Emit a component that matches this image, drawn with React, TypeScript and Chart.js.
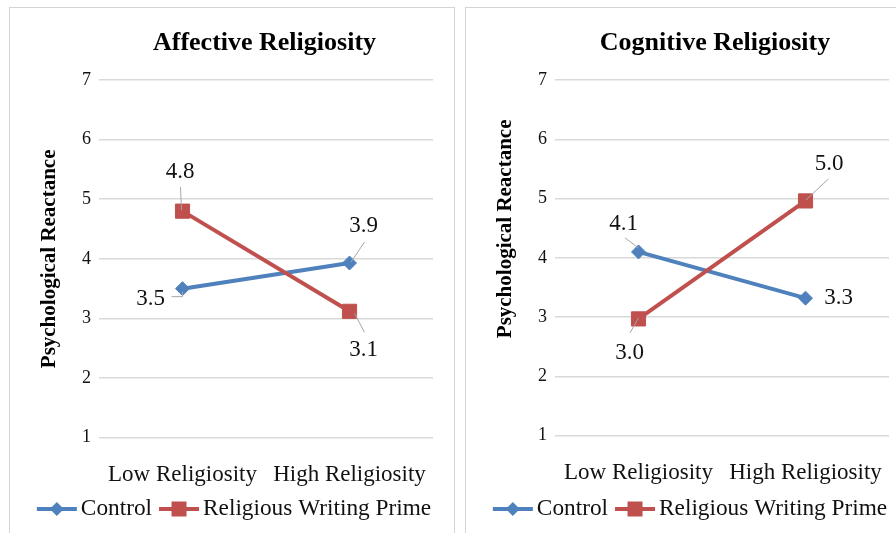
import React, { useEffect, useRef } from "react";
import { Chart, registerables } from "chart.js";

Chart.register(...registerables);

// ---------- data ----------
const categories = ["Low Religiosity", "High Religiosity"];
const seriesNames = ["Control", "Religious Writing Prime"];
const panelTitles = ["Affective Religiosity", "Cognitive Religiosity"];
const yAxisTitle = "Psychological Reactance";
const affectiveControl = [3.5, 3.93];
const affectivePrime = [4.8, 3.12];
const cognitiveControl = [4.1, 3.32];
const cognitivePrime = [2.97, 4.96];
const yMin = 1;
const yMax = 7;
const yStep = 1;

// ---------- styles ----------
const BLUE = "#4f81bd";
const RED = "#c0504d";
const GRID = "#d9d9d9";
const LEADER = "#a6a6a6";
const TEXT = "#111";
const SERIF = "'Liberation Serif', 'Times New Roman', serif";

type LabelSpec = { dx: number; dy: number; leader?: number[][] };

const affectiveLabels: LabelSpec[][] = [
  [
    { dx: -32, dy: 10, leader: [[-11, 8], [0, 8], [0, 3]] },
    { dx: 14, dy: -37, leader: [[1.5, -1], [15, -21]] },
  ],
  [
    { dx: -2.5, dy: -39, leader: [[-2, -24], [-1, -1]] },
    { dx: 14, dy: 39, leader: [[5, 2], [15, 21]] },
  ],
];
const cognitiveLabels: LabelSpec[][] = [
  [
    { dx: -15, dy: -28, leader: [[-13.5, -14], [0, -4]] },
    { dx: 33, dy: 0 },
  ],
  [
    { dx: -9, dy: 34, leader: [[-8.5, 14], [0, -1]] },
    { dx: 23.5, dy: -37, leader: [[23, -22], [0.5, -1]] },
  ],
];

type PanelSpec = {
  title: string;
  control: number[];
  prime: number[];
  labels: LabelSpec[][];
  titleDx: number;
  axisTitleDy: number;
  bottomPad: number;
};

const CANVAS_W = 444;
const CANVAS_H = 526;

function drawMarker(ctx: CanvasRenderingContext2D, kind: "diamond" | "square", x: number, y: number, color: string) {
  ctx.fillStyle = color;
  ctx.beginPath();
  if (kind === "diamond") {
    const r = 7;
    ctx.moveTo(x - r, y);
    ctx.lineTo(x, y - r);
    ctx.lineTo(x + r, y);
    ctx.lineTo(x, y + r);
    ctx.closePath();
  } else {
    const h = 7.5;
    ctx.rect(x - h, y - h, 2 * h, 2 * h);
  }
  ctx.fill();
}

function makeChart(canvas: HTMLCanvasElement, spec: PanelSpec) {
  const overlay = {
    id: "overlay" + spec.title,
    afterDatasetsDraw(chart: any) {
      const ctx: CanvasRenderingContext2D = chart.ctx;
      ctx.save();
      ctx.font = `23px ${SERIF}`;
      ctx.textAlign = "center";
      ctx.textBaseline = "middle";
      chart.data.datasets.forEach((ds: any, di: number) => {
        const meta = chart.getDatasetMeta(di);
        meta.data.forEach((pt: any, i: number) => {
          const s = spec.labels[di][i];
          const x = pt.x;
          const y = pt.y;
          if (s.leader) {
            ctx.strokeStyle = LEADER;
            ctx.lineWidth = 1;
            ctx.beginPath();
            s.leader.forEach((p, k) => {
              if (k === 0) ctx.moveTo(x + p[0], y + p[1]);
              else ctx.lineTo(x + p[0], y + p[1]);
            });
            ctx.stroke();
          }
          ctx.fillStyle = TEXT;
          ctx.fillText(Number(ds.data[i]).toFixed(1), x + s.dx, y + s.dy);
        });
      });
      ctx.restore();
    },
    afterDraw(chart: any) {
      const ctx: CanvasRenderingContext2D = chart.ctx;
      const area = chart.chartArea;
      ctx.save();
      // title
      ctx.fillStyle = "#000";
      ctx.font = `bold 26px ${SERIF}`;
      ctx.textAlign = "center";
      ctx.textBaseline = "alphabetic";
      ctx.fillText(spec.title, (area.left + area.right) / 2 + spec.titleDx, 42);
      // y axis title
      ctx.save();
      ctx.translate(39.5, (area.top + area.bottom) / 2 + spec.axisTitleDy);
      ctx.rotate(-Math.PI / 2);
      ctx.font = `bold 21px ${SERIF}`;
      ctx.textBaseline = "middle";
      ctx.fillText(yAxisTitle, 0, 0);
      ctx.restore();
      // legend
      ctx.font = `23.3px ${SERIF}`;
      ctx.textBaseline = "middle";
      ctx.textAlign = "left";
      const lineW = 40;
      const gap = 4;
      const itemGap = 7;
      const w0 = ctx.measureText(seriesNames[0]).width;
      const w1 = ctx.measureText(seriesNames[1]).width;
      const total = lineW + gap + w0 + itemGap + lineW + gap + w1;
      let x = chart.width / 2 + 2 - total / 2;
      const ly = 501;
      const items: [string, string, "diamond" | "square", number][] = [
        [seriesNames[0], BLUE, "diamond", w0],
        [seriesNames[1], RED, "square", w1],
      ];
      items.forEach(([name, color, kind, w]) => {
        ctx.strokeStyle = color;
        ctx.lineWidth = 4;
        ctx.beginPath();
        ctx.moveTo(x, ly);
        ctx.lineTo(x + lineW, ly);
        ctx.stroke();
        drawMarker(ctx, kind, x + lineW / 2, ly, color);
        ctx.fillStyle = TEXT;
        ctx.fillText(name, x + lineW + gap, ly);
        x += lineW + gap + w + itemGap;
      });
      ctx.restore();
    },
  };

  return new Chart(canvas, {
    type: "line",
    data: {
      labels: categories,
      datasets: [
        {
          label: seriesNames[0],
          data: spec.control,
          borderColor: BLUE,
          backgroundColor: BLUE,
          borderWidth: 4,
          pointStyle: "rectRot",
          pointRadius: 7,
          pointHoverRadius: 7,
          pointBorderWidth: 1,
          pointBackgroundColor: BLUE,
          pointBorderColor: BLUE,
          tension: 0,
          order: 1,
        },
        {
          label: seriesNames[1],
          data: spec.prime,
          borderColor: RED,
          backgroundColor: RED,
          borderWidth: 4,
          pointStyle: "rect",
          pointRadius: 10,
          pointHoverRadius: 10,
          pointBorderWidth: 1,
          pointBackgroundColor: RED,
          pointBorderColor: RED,
          tension: 0,
          order: 0,
        },
      ],
    },
    options: {
      animation: false,
      responsive: false,
      events: [],
      layout: { padding: { left: 0, right: 21, top: 72, bottom: spec.bottomPad } },
      plugins: {
        legend: { display: false },
        title: { display: false },
        tooltip: { enabled: false },
      },
      scales: {
        x: {
          offset: true,
          grid: { display: false },
          border: { display: false },
          ticks: { font: { family: SERIF, size: 23 }, color: TEXT, padding: 15, maxRotation: 0 },
          afterFit: (s: any) => {
            s.height = 50;
          },
        },
        y: {
          min: yMin,
          max: yMax,
          ticks: { stepSize: yStep, font: { family: SERIF, size: 18 }, color: TEXT, padding: 8 },
          grid: { color: GRID, lineWidth: 1.5, drawTicks: false },
          border: { display: false },
          afterFit: (s: any) => {
            s.width = 89;
          },
        },
      },
    },
    plugins: [overlay],
  });
}

const panels: PanelSpec[] = [
  {
    title: panelTitles[0],
    control: affectiveControl,
    prime: affectivePrime,
    labels: affectiveLabels,
    titleDx: -1.5,
    axisTitleDy: 0,
    bottomPad: CANVAS_H - 429.7 - 50,
  },
  {
    title: panelTitles[1],
    control: cognitiveControl,
    prime: cognitivePrime,
    labels: cognitiveLabels,
    titleDx: -7,
    axisTitleDy: -29,
    bottomPad: CANVAS_H - 427.7 - 50,
  },
];

function Panel({ spec, left }: { spec: PanelSpec; left: number }) {
  const ref = useRef<HTMLCanvasElement>(null);
  useEffect(() => {
    if (!ref.current) return;
    const c = makeChart(ref.current, spec);
    return () => c.destroy();
  }, [spec]);
  return (
    <div
      style={{
        position: "absolute",
        left,
        top: 7,
        width: CANVAS_W,
        height: 540,
        border: "1px solid #d4d4d4",
        background: "#fff",
      }}
    >
      <canvas ref={ref} width={CANVAS_W} height={CANVAS_H} style={{ display: "block", width: CANVAS_W, height: CANVAS_H }} />
    </div>
  );
}

export default function App() {
  return (
    <div
      style={{
        position: "fixed",
        left: 0,
        top: 0,
        width: 896,
        height: 533,
        overflow: "hidden",
        background: "#fff",
      }}
    >
      <Panel spec={panels[0]} left={9} />
      <Panel spec={panels[1]} left={465} />
    </div>
  );
}
